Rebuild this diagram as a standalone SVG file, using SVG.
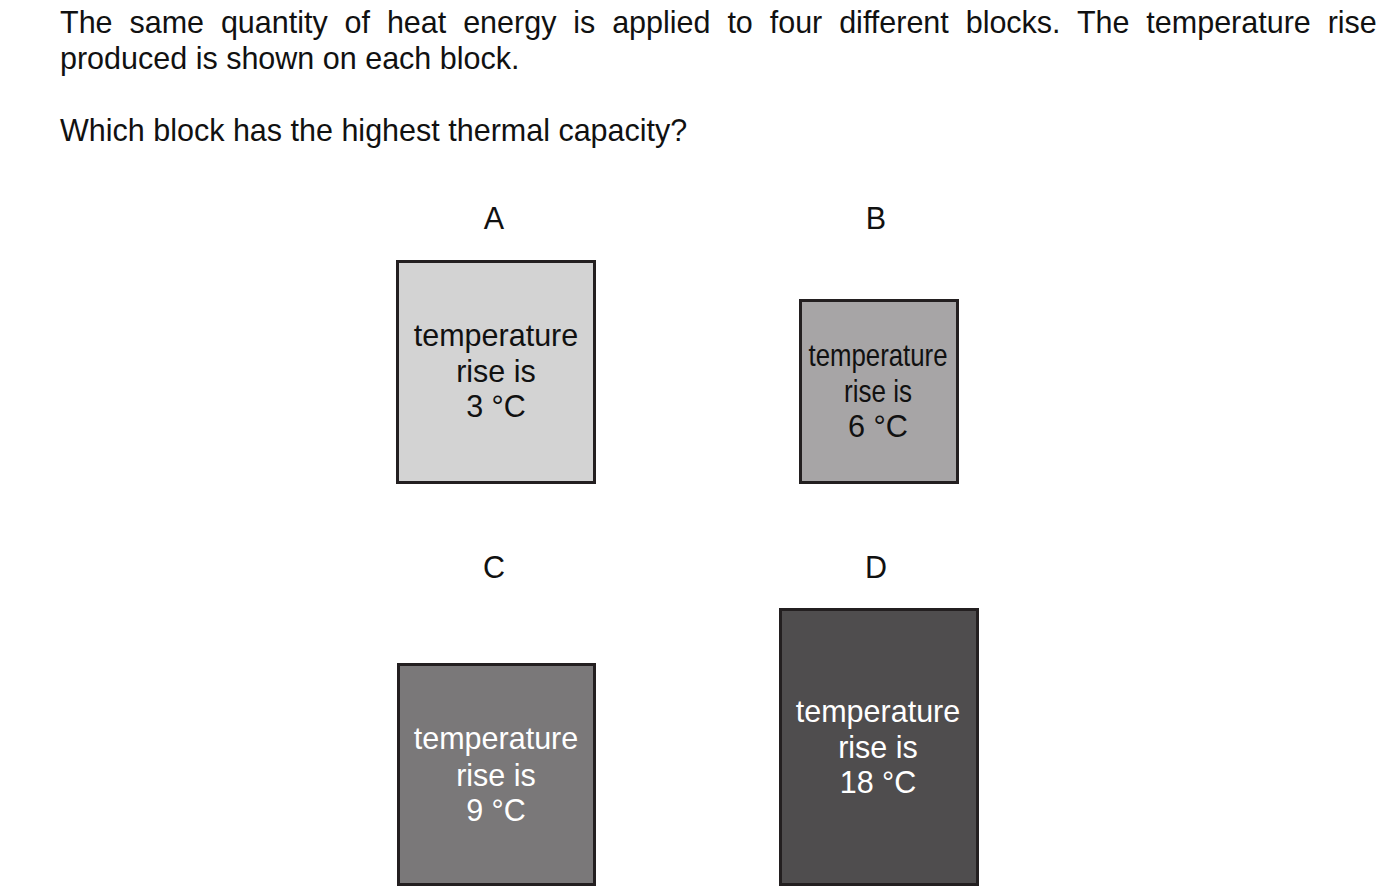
<svg xmlns="http://www.w3.org/2000/svg" width="1383" height="895" viewBox="0 0 1383 895">
<style>
text{font-family:"Liberation Sans",Arial,Helvetica,sans-serif;font-size:30.5px;fill:#111}
.c{text-anchor:middle}
.w{fill:#ffffff}
.blk{stroke:#231f20;stroke-width:3}
</style>
<rect width="1383" height="895" fill="#ffffff"/>
<g id="question">
<text x="60" y="33" word-spacing="8.4">The same quantity of heat energy is applied to four different blocks. The temperature rise</text>
<text x="60" y="69">produced is shown on each block.</text>
<text x="60" y="141">Which block has the highest thermal capacity?</text>
</g>
<g id="blockA">
<text class="c" x="494" y="229">A</text>
<rect class="blk" x="397.5" y="261.5" width="197" height="221" fill="#d3d3d3"/>
<text class="c" x="496" y="346">temperature</text>
<text class="c" x="496" y="382">rise is</text>
<text class="c" x="496" y="417">3 °C</text>
</g>
<g id="blockB">
<text class="c" x="876" y="229">B</text>
<rect class="blk" x="800.5" y="300.5" width="157" height="182" fill="#a7a5a6"/>
<text class="c" x="878" y="366" textLength="139" lengthAdjust="spacingAndGlyphs">temperature</text>
<text class="c" x="878" y="402" textLength="68" lengthAdjust="spacingAndGlyphs">rise is</text>
<text class="c" x="878" y="437" textLength="60" lengthAdjust="spacingAndGlyphs">6 °C</text>
</g>
<g id="blockC">
<text class="c" x="494" y="578">C</text>
<rect class="blk" x="398.5" y="664.5" width="196" height="220" fill="#7a7879"/>
<text class="c w" x="496" y="749">temperature</text>
<text class="c w" x="496" y="786">rise is</text>
<text class="c w" x="496" y="821">9 °C</text>
</g>
<g id="blockD">
<text class="c" x="876" y="578">D</text>
<rect class="blk" x="780.5" y="609.5" width="197" height="275" fill="#4f4d4e"/>
<text class="c w" x="878" y="722">temperature</text>
<text class="c w" x="878" y="758">rise is</text>
<text class="c w" x="878" y="793">18 °C</text>
</g>
<g id="connectors"></g>
</svg>
